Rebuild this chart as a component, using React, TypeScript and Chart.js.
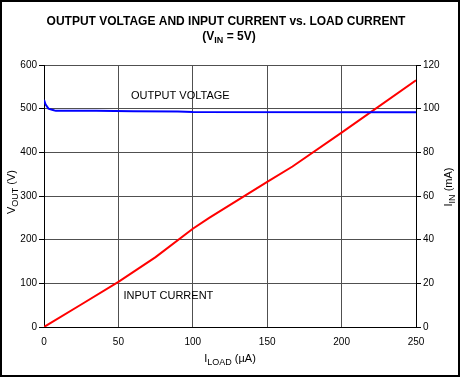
import React, { useEffect, useRef } from "react";
import { Chart, registerables } from "chart.js";

Chart.register(...registerables);

// I_LOAD (µA) for the V_OUT curve and V_OUT (V)
const voutLoad = [0, 1, 3, 6, 8, 35, 60, 90, 100, 250];
const voutValues = [520, 510, 500, 497, 495, 495, 494, 493.5, 492.5, 492];

// I_LOAD (µA) for the I_IN curve and I_IN (mA)
const iinLoad = [0, 25, 50, 75, 100, 111, 150, 167, 200, 250];
const iinValues = [0, 10.3, 20.7, 32, 45, 50, 66.5, 73.5, 89, 113];

const xTicks = [0, 50, 100, 150, 200, 250];
const leftTicks = [0, 100, 200, 300, 400, 500, 600];
const rightTicks = [0, 20, 40, 60, 80, 100, 120];

const FONT = "'Liberation Sans', Arial, Helvetica, sans-serif";

type Part = { t: string; sub?: boolean };

function drawRich(
  ctx: CanvasRenderingContext2D,
  parts: Part[],
  cx: number,
  cy: number,
  size: number,
  bold: boolean,
  rot: number
) {
  const subSize = Math.round(size * 0.78);
  const w = bold ? "bold " : "";
  let total = 0;
  const widths = parts.map((p) => {
    ctx.font = `${w}${p.sub ? subSize : size}px ${FONT}`;
    const m = ctx.measureText(p.t).width;
    total += m;
    return m;
  });
  ctx.save();
  ctx.translate(cx, cy);
  ctx.rotate(rot);
  ctx.fillStyle = "#000";
  ctx.textBaseline = "middle";
  ctx.textAlign = "left";
  let x = -total / 2;
  parts.forEach((p, i) => {
    ctx.font = `${w}${p.sub ? subSize : size}px ${FONT}`;
    ctx.fillText(p.t, x, p.sub ? size * 0.3 : 0);
    x += widths[i];
  });
  ctx.restore();
}

const textPlugin = {
  id: "texts",
  afterDraw(chart: any) {
    const ctx = chart.ctx as CanvasRenderingContext2D;
    const xs = chart.scales.x;
    const ys = chart.scales.y;
    drawRich(ctx, [{ t: "OUTPUT VOLTAGE AND INPUT CURRENT vs. LOAD CURRENT" }], 226, 22, 12, true, 0);
    drawRich(ctx, [{ t: "(V" }, { t: "IN", sub: true }, { t: " = 5V)" }], 229, 37, 12, true, 0);
    drawRich(ctx, [{ t: "V" }, { t: "OUT", sub: true }, { t: " (V)" }], 12, 192, 11, false, -Math.PI / 2);
    drawRich(ctx, [{ t: "I" }, { t: "IN", sub: true }, { t: " (mA)" }], 449, 187, 11, false, -Math.PI / 2);
    drawRich(ctx, [{ t: "I" }, { t: "LOAD", sub: true }, { t: " (µA)" }], 230, 359, 11, false, 0);

    ctx.save();
    ctx.font = `11px ${FONT}`;
    ctx.fillStyle = "#000";
    ctx.textBaseline = "middle";
    ctx.textAlign = "left";
    ctx.fillText("OUTPUT VOLTAGE", xs.getPixelForValue(58.5), ys.getPixelForValue(528));
    ctx.fillText("INPUT CURRENT", xs.getPixelForValue(53.4), ys.getPixelForValue(72));
    ctx.restore();

    ctx.save();
    ctx.strokeStyle = "#000";
    ctx.lineWidth = 2;
    ctx.strokeRect(1, 1, 458, 375);
    ctx.restore();
  },
};

export default function App() {
  const ref = useRef<HTMLCanvasElement>(null);
  useEffect(() => {
    if (!ref.current) return;
    const chart = new Chart(ref.current, {
      type: "line",
      data: {
        datasets: [
          {
            label: "OUTPUT VOLTAGE",
            data: voutLoad.map((x, i) => ({ x, y: voutValues[i] })),
            borderColor: "#0000ff",
            borderWidth: 2,
            pointRadius: 0,
            tension: 0,
            yAxisID: "y",
          },
          {
            label: "INPUT CURRENT",
            data: iinLoad.map((x, i) => ({ x, y: iinValues[i] })),
            borderColor: "#ff0000",
            borderWidth: 2,
            pointRadius: 0,
            tension: 0,
            yAxisID: "y1",
          },
        ],
      },
      options: {
        animation: false,
        responsive: false,
        devicePixelRatio: 1,
        layout: { padding: { top: 65, left: 0, right: 0, bottom: 0 } },
        plugins: { legend: { display: false }, tooltip: { enabled: false }, title: { display: false } },
        scales: {
          x: {
            type: "linear",
            min: 0,
            max: 250,
            afterBuildTicks: (s: any) => {
              s.ticks = xTicks.map((v) => ({ value: v }));
            },
            ticks: { font: { size: 10, family: FONT }, color: "#000", padding: 9, maxRotation: 0 },
            grid: { color: "#505050", drawTicks: false, lineWidth: 1 },
            border: { color: "#000", width: 1 },
            afterFit: (s: any) => {
              s.height = 51;
            },
          },
          y: {
            type: "linear",
            position: "left",
            min: 0,
            max: 600,
            afterBuildTicks: (s: any) => {
              s.ticks = leftTicks.map((v) => ({ value: v }));
            },
            ticks: { font: { size: 10, family: FONT }, color: "#000", padding: 2 },
            grid: { color: "#505050", tickColor: "#000", tickLength: 5, lineWidth: 1 },
            border: { color: "#000", width: 1 },
            afterFit: (s: any) => {
              s.width = 44;
            },
          },
          y1: {
            type: "linear",
            position: "right",
            min: 0,
            max: 120,
            afterBuildTicks: (s: any) => {
              s.ticks = rightTicks.map((v) => ({ value: v }));
            },
            ticks: { font: { size: 10, family: FONT }, color: "#000", padding: 2 },
            grid: { drawOnChartArea: false, tickColor: "#000", tickLength: 5 },
            border: { color: "#000", width: 1 },
            afterFit: (s: any) => {
              s.width = 45;
            },
          },
        },
      } as any,
      plugins: [textPlugin],
    });
    return () => chart.destroy();
  }, []);
  return (
    <div style={{ position: "fixed", left: 0, top: 0, width: 461, height: 378, background: "#fff" }}>
      <canvas ref={ref} width={461} height={378} style={{ width: 461, height: 378, display: "block" }} />
    </div>
  );
}
